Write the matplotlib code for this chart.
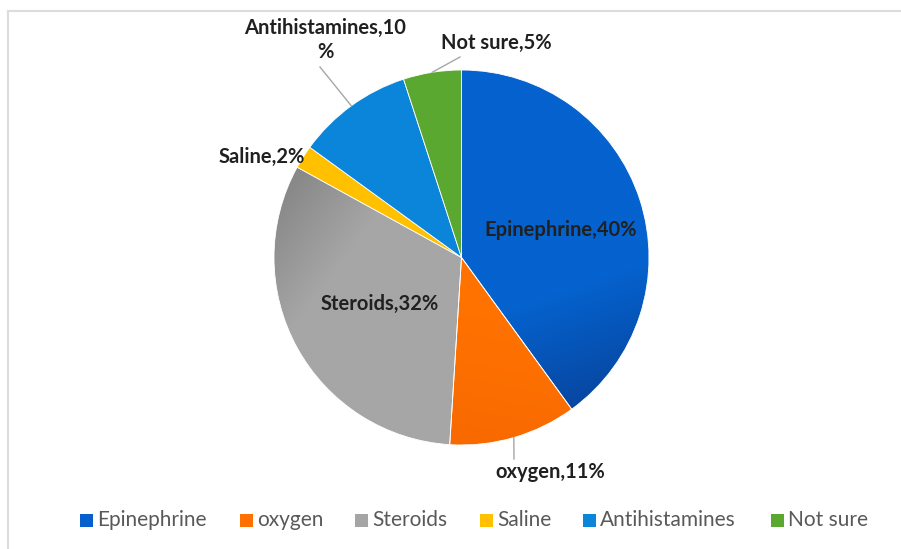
import textwrap
import numpy as np
import matplotlib.pyplot as plt
from matplotlib.patches import Rectangle
from matplotlib.colors import to_rgb

# survey answers
labels = ['Epinephrine', 'oxygen', 'Steroids', 'Saline', 'Antihistamines', 'Not sure']
shares = [40, 11, 32, 2, 10, 5]
colors = ['#0560cd', '#ff7000', '#a5a5a5', '#ffc000', '#0a85d9', '#5ba830']

W, H = 901, 549
fig = plt.figure(figsize=(W / 100, H / 100), dpi=100)
ax = fig.add_axes([0, 0, 1, 1])

# pie geometry in pixel units (y measured upwards)
cx, cy, r = 461.5, H - 257.5, 187.5

wedges, _ = ax.pie(shares, colors=colors, startangle=90, counterclock=False,
                   center=(cx, cy), radius=r, frame=True,
                   wedgeprops=dict(edgecolor='white', linewidth=0.6))


def shade(wedge, c0, c1, direction, t0, t1):
    """fill a wedge with a linear gradient running along `direction`"""
    n = 300
    xs = np.linspace(cx - r, cx + r, n)
    ys = np.linspace(cy - r, cy + r, n)
    X, Y = np.meshgrid(xs, ys)
    u = np.array(direction, float)
    u /= np.hypot(*u)
    d = ((X - cx) * u[0] + (Y - cy) * u[1]) / r
    t = np.clip((d - t0) / (t1 - t0), 0, 1)[..., None]
    rgb = (1 - t) * np.array(to_rgb(c0)) + t * np.array(to_rgb(c1))
    im = ax.imshow(rgb, extent=[cx - r, cx + r, cy - r, cy + r], origin='lower',
                   interpolation='bilinear', zorder=wedge.get_zorder() - 0.1)
    im.set_clip_path(wedge)
    wedge.set_facecolor('none')


shade(wedges[0], '#0562ce', '#0746a0', (0.35, -1), 0.35, 0.97)
shade(wedges[2], '#a6a6a6', '#888888', (-0.8, 0.6), 0.5, 0.97)
shade(wedges[1], '#ff7200', '#f86a00', (-0.2, -1), 0.3, 0.95)

# data labels: (x, y) in pixels from the top-left corner
label_pos = [(561, 230), (550, 472), (380, 304), (262, 157), (325, 40), (496, 43)]
leader_end = [None, (514, 459), None, None, (320, 67), (460, 57)]

edges = np.cumsum([0] + shares) / sum(shares) * 360
for i, (lab, v) in enumerate(zip(labels, shares)):
    px, py = label_pos[i]
    txt = '\n'.join(textwrap.wrap(f'{lab},{v}%', 17))
    ax.text(px, H - py, txt, ha='center', va='center', fontsize=14.5,
            fontweight='bold', family=['Lato', 'DejaVu Sans'], color='#202020',
            linespacing=1.2, zorder=5)
    if leader_end[i] is not None:
        mid = np.deg2rad(90 - (edges[i] + edges[i + 1]) / 2)
        x0, y0 = cx + r * np.cos(mid), cy + r * np.sin(mid)
        ex, ey = leader_end[i]
        ax.plot([x0, ex], [y0, H - ey], color='#a6a6a6', lw=1, zorder=4)

# legend row
leg_x = [80, 240, 355, 480, 583, 771]
leg_y = H - 520
for x, lab, c in zip(leg_x, labels, colors):
    ax.add_patch(Rectangle((x, leg_y - 6.5), 13, 13, facecolor=c, edgecolor='none'))
    ax.text(x + 17, leg_y, lab, ha='left', va='center', fontsize=15,
            family=['Lato', 'DejaVu Sans'], color='#595959')

# thin chart-area border along the top and left
ax.plot([8, W], [H - 11, H - 11], color='#dcdcdc', lw=1.5, zorder=0)
ax.plot([8, 8], [H - 11, 0], color='#dcdcdc', lw=1.5, zorder=0)

ax.set_xlim(0, W)
ax.set_ylim(0, H)
ax.set_aspect('auto')
ax.axis('off')

fig.savefig('out.png', dpi=100, facecolor='white')
